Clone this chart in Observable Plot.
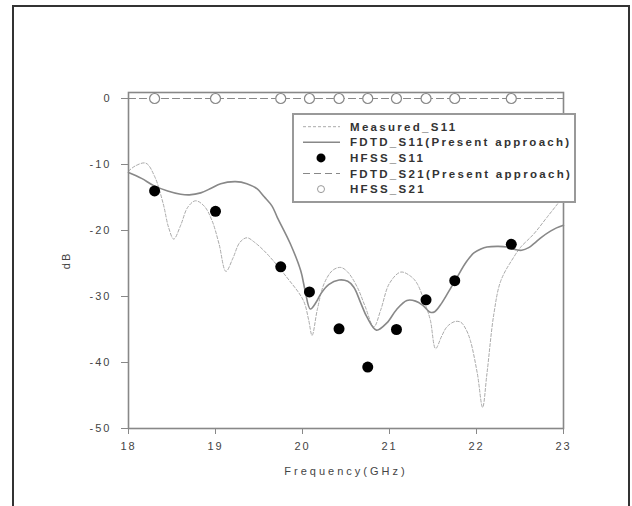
<!DOCTYPE html>
<html><head><meta charset="utf-8">
<script src="https://cdn.jsdelivr.net/npm/d3@7"></script>
<script src="https://cdn.jsdelivr.net/npm/@observablehq/plot@0.6"></script>
<style>
body{margin:0;background:#fff;}
#wrap{position:relative;width:632px;height:506px;overflow:hidden;font-family:"Liberation Sans",Arial,sans-serif;}
#outer{position:absolute;left:12px;top:5px;width:618px;height:540px;border:2px solid #333;box-sizing:border-box;pointer-events:none;}
#chart{position:absolute;left:0;top:0;}
#legend{position:absolute;left:292px;top:113px;width:284px;height:90px;border:2px solid #999;background:#fff;box-sizing:border-box;}
</style></head>
<body>
<div id="wrap"><div id="chart"></div><div id="legend"></div><div id="outer"></div></div>
<script>
// ---- data ----
const xTicks = [18, 19, 20, 21, 22, 23];
const yTicks = [0, -10, -20, -30, -40, -50];

const measuredFreq = [18.0,18.08,18.2,18.3,18.4,18.46,18.52,18.6,18.68,18.77,18.87,18.96,19.04,19.12,19.2,19.28,19.36,19.45,19.59,19.82,20.01,20.07,20.11,20.17,20.25,20.35,20.44,20.52,20.63,20.72,20.82,20.9,21.0,21.13,21.25,21.32,21.42,21.47,21.53,21.6,21.66,21.75,21.82,21.88,21.93,22.01,22.07,22.12,22.2,22.28,22.43,22.51,22.66,22.81,22.93,23.0];
const measuredS11 = [-11.0,-10.2,-9.8,-11.8,-16.0,-19.5,-21.3,-19.2,-16.5,-15.5,-16.3,-18.5,-22.0,-26.2,-24.2,-21.8,-21.1,-21.8,-23.5,-27.1,-30.6,-33.5,-35.9,-32.0,-28.0,-26.0,-25.6,-26.3,-28.6,-31.5,-34.6,-32.0,-28.0,-26.3,-27.0,-28.1,-31.5,-33.6,-37.9,-36.0,-34.6,-33.8,-33.9,-35.0,-36.7,-41.7,-46.8,-41.7,-32.6,-27.6,-24.0,-22.5,-20.5,-18.0,-16.0,-14.8];

const fdtdFreq = [18.0,18.15,18.29,18.45,18.6,18.7,18.83,18.95,19.06,19.23,19.36,19.48,19.56,19.65,19.71,19.86,19.98,20.03,20.09,20.16,20.21,20.3,20.42,20.52,20.59,20.67,20.74,20.85,20.97,21.08,21.2,21.3,21.38,21.47,21.52,21.6,21.7,21.78,21.88,21.97,22.05,22.12,22.25,22.35,22.45,22.52,22.6,22.66,22.75,22.85,22.92,23.0];
const fdtdS11 = [-11.2,-12.1,-13.2,-14.0,-14.5,-14.6,-14.3,-13.6,-12.9,-12.6,-12.9,-13.7,-14.9,-16.3,-18.0,-22.0,-26.1,-29.1,-31.9,-30.8,-29.6,-28.2,-27.5,-27.7,-28.6,-31.0,-33.1,-35.1,-34.0,-32.0,-30.6,-30.7,-31.3,-32.4,-32.3,-31.0,-28.8,-27.0,-24.8,-23.4,-22.8,-22.5,-22.4,-22.5,-22.9,-23.0,-22.6,-22.0,-21.0,-20.1,-19.6,-19.2];

const hfssFreq = [18.3, 19.0, 19.75, 20.08, 20.42, 20.75, 21.08, 21.42, 21.75, 22.4];
const hfssS11 = [-14.0, -17.1, -25.5, -29.3, -34.9, -40.7, -35.0, -30.5, -27.6, -22.1];
const hfssS21 = [0, 0, 0, 0, 0, 0, 0, 0, 0, 0];

const fdtdS21Freq = [18, 23];
const fdtdS21 = [0, 0];

const legendLabels = ["Measured_S11", "FDTD_S11(Present approach)", "HFSS_S11", "FDTD_S21(Present approach)", "HFSS_S21"];

// ---- build tables ----
const measured = measuredFreq.map((f, i) => ({f, v: measuredS11[i]}));
const fdtd = fdtdFreq.map((f, i) => ({f, v: fdtdS11[i]}));
const h11 = hfssFreq.map((f, i) => ({f, v: hfssS11[i]}));
const h21 = hfssFreq.map((f, i) => ({f, v: hfssS21[i]}));
const f21 = fdtdS21Freq.map((f, i) => ({f, v: fdtdS21[i]}));

const styles = {
  measured: {stroke: "#aaa", strokeWidth: 1, strokeDasharray: "3,2"},
  fdtd: {stroke: "#888", strokeWidth: 1.6},
  f21: {stroke: "#888", strokeWidth: 1.2, strokeDasharray: "7,4"}
};

const chart = Plot.plot({
  width: 632, height: 506,
  marginLeft: 128, marginRight: 69, marginTop: 92, marginBottom: 78,
  x: {domain: [18, 23]},
  y: {domain: [-50, 0.91]},
  style: {fontFamily: "'Liberation Sans', Arial, sans-serif", fontSize: "11px", color: "#444", background: "transparent", letterSpacing: "2px"},
  marks: [
    Plot.line(f21, {x: "f", y: "v", ...styles.f21}),
    Plot.line(measured, {x: "f", y: "v", ...styles.measured, curve: "catmull-rom"}),
    Plot.line(fdtd, {x: "f", y: "v", ...styles.fdtd, curve: "catmull-rom"}),
    Plot.dot(h11, {x: "f", y: "v", r: 5.5, fill: "#000", stroke: "none"}),
    Plot.dot(h21, {x: "f", y: "v", r: 5, fill: "#fff", stroke: "#888", strokeWidth: 1.2}),
    Plot.frame({stroke: "#888", strokeWidth: 1.6}),
    Plot.axisX({ticks: xTicks, tickSize: 6, tickPadding: 8, stroke: "#888", fill: "#444", tickFormat: d => d,
      label: "Frequency(GHz)", labelAnchor: "center", labelOffset: 46, labelArrow: "none"}),
    Plot.axisY({ticks: yTicks, tickSize: 7, tickPadding: 10, stroke: "#888", fill: "#444", tickFormat: d => d,
      label: "dB", labelAnchor: "center", labelOffset: 66, labelArrow: "none"})
  ]
});
document.getElementById("chart").appendChild(chart);
d3.select(chart).selectAll('[aria-label="x-axis label"] text').style("letter-spacing", "3px");

// ---- legend ----
const rowH = 15.6, firstY = 12.7;
const lg = d3.select("#legend").append("svg").attr("width", 282).attr("height", 86)
  .style("font-family", "'Liberation Sans', Arial, sans-serif").style("font-size", "11.5px")
  .style("font-weight", "bold").style("letter-spacing", "2.3px");
legendLabels.forEach((lab, i) => {
  const y = firstY + i * rowH - 1;
  const g = lg.append("g");
  if (i === 0) g.append("line").attr("x1", 9).attr("x2", 46).attr("y1", y).attr("y2", y).attr("stroke", styles.measured.stroke).attr("stroke-width", 1).attr("stroke-dasharray", "3,2");
  if (i === 1) g.append("line").attr("x1", 9).attr("x2", 46).attr("y1", y).attr("y2", y).attr("stroke", styles.fdtd.stroke).attr("stroke-width", 1.6);
  if (i === 2) g.append("circle").attr("cx", 27).attr("cy", y).attr("r", 4.5).attr("fill", "#000");
  if (i === 3) g.append("line").attr("x1", 9).attr("x2", 46).attr("y1", y).attr("y2", y).attr("stroke", styles.f21.stroke).attr("stroke-width", 1.2).attr("stroke-dasharray", "7,4");
  if (i === 4) g.append("circle").attr("cx", 27).attr("cy", y).attr("r", 3.5).attr("fill", "#fff").attr("stroke", "#999");
  g.append("text").attr("x", 56).attr("y", y).attr("dy", "0.35em").attr("fill", "#333").text(lab);
});
</script>
</body></html>
